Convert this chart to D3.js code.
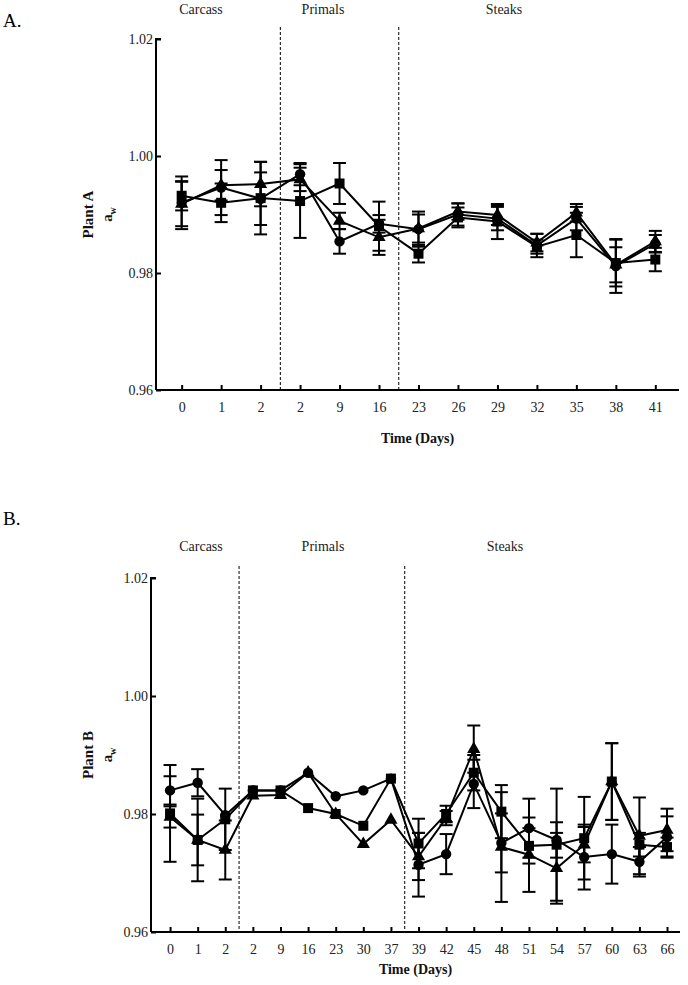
<!DOCTYPE html>
<html>
<head>
<meta charset="utf-8">
<script src="https://cdn.jsdelivr.net/npm/d3@7"></script>
<style>
  html, body { margin: 0; padding: 0; background: #fff; }
  svg, svg text { font-family: 'Liberation Serif', 'DejaVu Serif', serif; }
</style>
</head>
<body>
<svg id="chart" width="688" height="985" font-family="Liberation Serif, serif"></svg>
<script>
// ---------- DATA ----------
const yTicks = [0.96, 0.98, 1.00, 1.02];
const sectionLabels = ["Carcass", "Primals", "Steaks"];

// Plant A
const A_days = ["0","1","2","2","9","16","23","26","29","32","35","38","41"];
const A_circle      = [0.9920, 0.9946, 0.9927, 0.9969, 0.9854, 0.9884, 0.9875, 0.9900, 0.9893, 0.9847, 0.9893, 0.9812, 0.9850];
const A_circleErr   = [0.0045, 0.0047, 0.0045, 0.0019, 0.0021, 0.0015, 0.0030, 0.0019, 0.0020, 0.0020, 0.0020, 0.0046, 0.0015];
const A_square      = [0.9932, 0.9920, 0.9928, 0.9923, 0.9953, 0.9880, 0.9833, 0.9895, 0.9888, 0.9845, 0.9865, 0.9817, 0.9823];
const A_squareErr   = [0.0025, 0.0033, 0.0062, 0.0063, 0.0035, 0.0042, 0.0015, 0.0017, 0.0030, 0.0012, 0.0038, 0.0040, 0.0020];
const A_triangle    = [0.9918, 0.9950, 0.9952, 0.9960, 0.9889, 0.9861, 0.9876, 0.9905, 0.9899, 0.9852, 0.9903, 0.9814, 0.9854];
const A_triangleErr = [0.0038, 0.0026, 0.0038, 0.0020, 0.0014, 0.0030, 0.0024, 0.0014, 0.0017, 0.0015, 0.0015, 0.0030, 0.0018];

// Plant B
const B_days = ["0","1","2","2","9","16","23","30","37","39","42","45","48","51","54","57","60","63","66"];
const B_circle      = [0.9840, 0.9853, 0.9798, 0.9840, 0.9840, 0.9870, 0.9830, 0.9840, 0.9860, 0.9714, 0.9732, 0.9851, 0.9751, 0.9776, 0.9756, 0.9727, 0.9732, 0.9719, 0.9761];
const B_circleErr   = [0.0024, 0.0023, 0.0000, 0, 0, 0, 0, 0, 0, 0.0054, 0.0034, 0.0041, 0.0050, 0.0050, 0.0030, 0.0055, 0.0050, 0.0025, 0.0035];
const B_square      = [0.9801, 0.9756, 0.9791, 0.9840, 0.9840, 0.9810, 0.9800, 0.9780, 0.9860, 0.9750, 0.9800, 0.9870, 0.9804, 0.9746, 0.9748, 0.9759, 0.9855, 0.9748, 0.9744];
const B_squareErr   = [0.0082, 0.0070, 0.0052, 0, 0, 0, 0, 0, 0, 0.0042, 0.0014, 0.0030, 0.0045, 0.0030, 0.0095, 0.0070, 0.0065, 0.0020, 0.0016];
const B_triangle    = [0.9795, 0.9756, 0.9739, 0.9831, 0.9832, 0.9870, 0.9800, 0.9749, 0.9790, 0.9728, 0.9793, 0.9910, 0.9744, 0.9731, 0.9708, 0.9748, 0.9855, 0.9763, 0.9773];
const B_triangleErr = [0.0018, 0.0043, 0.0050, 0, 0, 0, 0, 0, 0, 0.0040, 0.0012, 0.0040, 0.0093, 0.0063, 0.0060, 0.0030, 0.0065, 0.0065, 0.0036];

// ---------- LAYOUT ----------
const FONT = "'Liberation Serif', 'DejaVu Serif', serif";
const panels = [
  {
    letter: "A.", plant: "Plant A", days: A_days,
    series: [
      {shape: d3.symbolCircle, size: 85, values: A_circle, err: A_circleErr},
      {shape: d3.symbolSquare, size: 100, values: A_square, err: A_squareErr},
      {shape: d3.symbolTriangle, size: 75, values: A_triangle, err: A_triangleErr}
    ],
    breaks: [2.5, 5.5],
    left: 156, right: 679, top: 39, bottom: 390, padL: 0.65, padR: 0.6,
    letterY: 27, sectionY: 14, dashTop: 27, titleY: 443, plantX: 88, awX: 108,
    sectionX: [201, 323, 504]
  },
  {
    letter: "B.", plant: "Plant B", days: B_days,
    series: [
      {shape: d3.symbolCircle, size: 85, values: B_circle, err: B_circleErr},
      {shape: d3.symbolSquare, size: 100, values: B_square, err: B_squareErr},
      {shape: d3.symbolTriangle, size: 75, values: B_triangle, err: B_triangleErr}
    ],
    breaks: [2.5, 8.5],
    left: 151, right: 680, top: 578, bottom: 932, padL: 0.69, padR: 0.47,
    letterY: 525, sectionY: 551, dashTop: 566, titleY: 974, plantX: 88, awX: 108,
    sectionX: [201, 323, 505]
  }
];

const svg = d3.select("#chart");

panels.forEach(p => {
  const g = svg.append("g").attr("font-family", FONT);
  const n = p.days.length;
  const x = d3.scaleLinear().domain([-p.padL, n - 1 + p.padR]).range([p.left, p.right]);
  const y = d3.scaleLinear().domain([0.96, 1.02]).range([p.bottom, p.top]);

  // panel letter
  g.append("text").attr("x", 3).attr("y", p.letterY).attr("font-family", FONT)
    .attr("font-size", 19).attr("fill", "#000").text(p.letter);

  // section labels
  sectionLabels.forEach((s, i) => {
    g.append("text").attr("x", p.sectionX[i]).attr("y", p.sectionY).attr("font-family", FONT)
      .attr("text-anchor", "middle").attr("font-size", 14).attr("fill", "#222").text(s);
  });

  // dashed separators
  p.breaks.forEach(b => {
    g.append("line").attr("x1", x(b)).attr("x2", x(b))
      .attr("y1", p.dashTop).attr("y2", p.bottom)
      .attr("stroke", "#000").attr("stroke-width", 1).attr("stroke-dasharray", "3,2");
  });

  // y axis (ticks inward)
  const yAxis = d3.axisRight(y).tickValues(yTicks).tickSize(5).tickFormat(d3.format(".2f"));
  const ya = g.append("g").attr("transform", `translate(${p.left},0)`).call(yAxis);
  ya.attr("font-family", FONT);
  ya.select(".domain").attr("stroke-width", 2).attr("d", `M5,${p.top}H0V${p.bottom}`);
  ya.selectAll(".tick line").attr("stroke-width", 2);
  ya.selectAll(".tick text").attr("x", -3).attr("text-anchor", "end")
    .attr("font-size", 14).attr("font-family", FONT).attr("fill", "#222");

  // x axis (ticks inward)
  const idx = d3.range(n);
  const xAxis = d3.axisTop(x).tickValues(idx).tickSize(5).tickFormat(i => p.days[i]);
  const xa = g.append("g").attr("transform", `translate(0,${p.bottom})`).call(xAxis);
  xa.attr("font-family", FONT);
  xa.select(".domain").attr("stroke-width", 2).attr("d", `M${p.left},0H${p.right}`);
  xa.selectAll(".tick line").attr("stroke-width", 2);
  xa.selectAll(".tick text").attr("y", 18).attr("dy", "0.32em")
    .attr("font-size", 14).attr("font-family", FONT).attr("fill", "#222");

  // axis titles
  g.append("text").attr("x", (p.left + p.right) / 2).attr("y", p.titleY).attr("font-family", FONT)
    .attr("text-anchor", "middle").attr("font-size", 14).attr("font-weight", "bold")
    .attr("fill", "#111").text("Time (Days)");

  const cy = (p.top + p.bottom) / 2;
  g.append("text").attr("transform", `translate(${p.plantX + 5},${cy}) rotate(-90)`).attr("font-family", FONT)
    .attr("text-anchor", "middle").attr("font-size", 15).attr("font-weight", "bold")
    .attr("fill", "#111").text(p.plant);
  const aw = g.append("text").attr("transform", `translate(${p.awX + 4},${cy}) rotate(-90)`).attr("font-family", FONT)
    .attr("text-anchor", "middle").attr("font-size", 15).attr("font-weight", "bold").attr("fill", "#111");
  aw.append("tspan").text("a");
  aw.append("tspan").attr("font-size", 10).attr("dy", 4).text("w");

  // lines
  const line = d3.line().x((d, i) => x(i)).y(d => y(d));
  p.series.forEach(s => {
    g.append("path").datum(s.values).attr("d", line)
      .attr("fill", "none").attr("stroke", "#000").attr("stroke-width", 2);
  });

  // error bars
  p.series.forEach(s => {
    s.values.forEach((v, i) => {
      const e = s.err[i];
      if (!e) return;
      const xi = x(i), y1 = y(v + e), y2 = y(v - e);
      g.append("line").attr("x1", xi).attr("x2", xi).attr("y1", y1).attr("y2", y2)
        .attr("stroke", "#000").attr("stroke-width", 2);
      [y1, y2].forEach(yy => {
        g.append("line").attr("x1", xi - 6.5).attr("x2", xi + 6.5).attr("y1", yy).attr("y2", yy)
          .attr("stroke", "#000").attr("stroke-width", 2);
      });
    });
  });

  // markers
  p.series.forEach(s => {
    const sym = d3.symbol().type(s.shape).size(s.size);
    g.selectAll(null).data(s.values).enter().append("path")
      .attr("d", sym)
      .attr("transform", (d, i) => `translate(${x(i)},${y(d)})`)
      .attr("fill", "#000");
  });
});
</script>
</body>
</html>
